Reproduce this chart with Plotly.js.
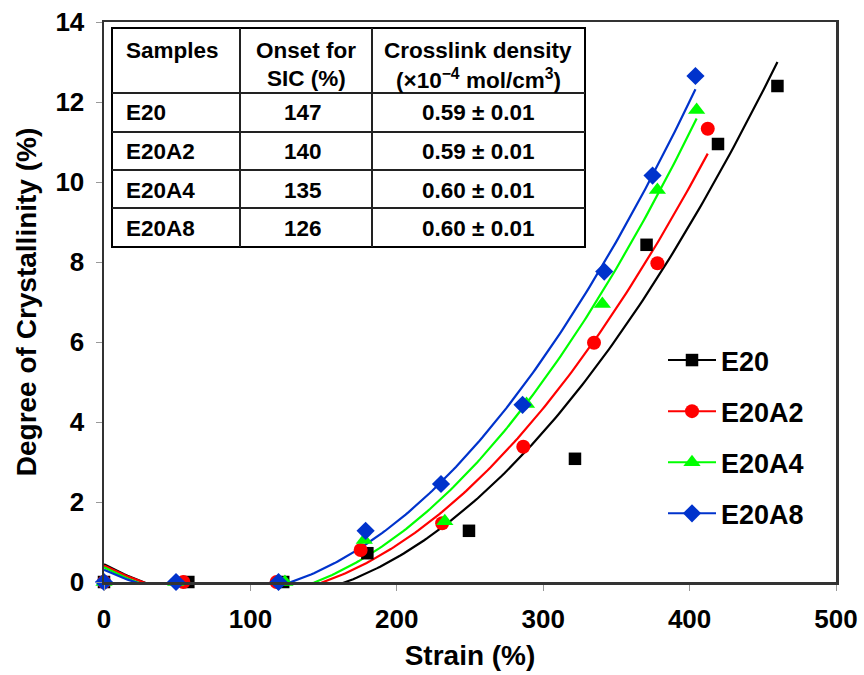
<!DOCTYPE html>
<html>
<head>
<meta charset="utf-8">
<script src="https://cdn.plot.ly/plotly-3.0.1.min.js"></script>
<style>html,body{margin:0;padding:0;background:#fff;}#chart{width:864px;height:675px;}</style>
</head>
<body>
<div id="chart"></div>
<script>
// ---- data ----
const seriesNames = ["E20", "E20A2", "E20A4", "E20A8"];
const strainE20   = [0, 57.6, 122.4, 179.9, 249.3, 321.7, 370.6, 419.4, 460];
const crystE20    = [0, 0, 0, 0.72, 1.28, 3.08, 8.43, 10.95, 12.4];
const strainE20A2 = [0, 54.2, 117.9, 175.3, 231, 286.4, 334.7, 378, 412.4];
const crystE20A2  = [0, 0, 0, 0.8, 1.47, 3.38, 5.98, 7.97, 11.33];
const strainE20A4 = [0, 49, 123.6, 177.8, 232.8, 288.6, 340.4, 378, 404.8];
const crystE20A4  = [0, 0, 0, 1.05, 1.52, 4.45, 6.95, 9.8, 11.8];
const strainE20A8 = [0, 49.2, 119.2, 178.7, 230.2, 285.9, 341.7, 374.7, 404];
const crystE20A8  = [0, 0, 0, 1.28, 2.45, 4.43, 7.76, 10.16, 12.65];

const tableHeader1 = ["Samples", "Onset for", "Crosslink density"];
const tableHeader2 = ["", "SIC (%)", "(×10<sup>−4</sup> mol/cm<sup>3</sup>)"];
const tableSamples = ["E20", "E20A2", "E20A4", "E20A8"];
const tableOnset   = ["147", "140", "135", "126"];
const tableDensity = ["0.59 ± 0.01", "0.59 ± 0.01", "0.60 ± 0.01", "0.60 ± 0.01"];

const xTickVals = [0, 100, 200, 300, 400, 500];
const yTickVals = [0, 2, 4, 6, 8, 10, 12, 14];

// ---- styles ----
const colors  = ["#000000", "#FF0000", "#00FF00", "#0033CC"];
const symbols = ["square", "circle", "triangle-up", "diamond"];
const sizes   = [12.5, 14, 15, 14];
const FONT = "Liberation Sans, Arial, sans-serif";

const strains = [strainE20, strainE20A2, strainE20A4, strainE20A8];
const crysts  = [crystE20, crystE20A2, crystE20A4, crystE20A8];

// quadratic least-squares trendline (like a spreadsheet polynomial trendline)
function polyfit2(xs, ys) {
  let S = [0,0,0,0,0], T = [0,0,0];
  for (let i = 0; i < xs.length; i++) {
    let p = 1;
    for (let k = 0; k < 5; k++) { S[k] += p; if (k < 3) T[k] += p * ys[i]; p *= xs[i]; }
  }
  const A = [[S[0],S[1],S[2],T[0]],[S[1],S[2],S[3],T[1]],[S[2],S[3],S[4],T[2]]];
  for (let c = 0; c < 3; c++) {
    let piv = c;
    for (let r = c+1; r < 3; r++) if (Math.abs(A[r][c]) > Math.abs(A[piv][c])) piv = r;
    [A[c], A[piv]] = [A[piv], A[c]];
    for (let r = 0; r < 3; r++) {
      if (r === c) continue;
      const f = A[r][c] / A[c][c];
      for (let k = c; k < 4; k++) A[r][k] -= f * A[c][k];
    }
  }
  return [A[0][3]/A[0][0], A[1][3]/A[1][1], A[2][3]/A[2][2]];
}

const traces = [];
// fitted curves
for (let s = 0; s < 4; s++) {
  const c = polyfit2(strains[s], crysts[s]);
  const xmax = Math.max(...strains[s]);
  const fx = [], fy = [];
  const n = 200;
  for (let i = 0; i <= n; i++) {
    const x = xmax * i / n;
    fx.push(x); fy.push(c[0] + c[1]*x + c[2]*x*x);
  }
  traces.push({x: fx, y: fy, mode: "lines", type: "scatter", showlegend: false,
    hoverinfo: "skip", line: {color: colors[s], width: 2.2}});
}
// data markers (null-separated so the legend shows line+marker but no connecting lines)
for (let s = 0; s < 4; s++) {
  const mx = [], my = [];
  strains[s].forEach((v, i) => { mx.push(v, null); my.push(crysts[s][i], null); });
  traces.push({x: mx, y: my, mode: "lines+markers", type: "scatter", name: seriesNames[s],
    connectgaps: false, cliponaxis: false, legendgroup: "g" + s,
    line: {color: colors[s], width: 2},
    marker: {symbol: symbols[s], size: sizes[s], color: colors[s], line: {width: 0}}});
}

// ---- table drawn with shapes + annotations (pixel -> paper helpers) ----
const L = 104, R = 836, T0 = 22, B = 582;
const px = v => (v - L) / (R - L);
const py = v => (B - v) / (B - T0);
const tL = 112, tR = 585, tT = 28, tB = 247;
const hLines = [93, 132, 170, 208];
const vLines = [240, 372];
const shapes = [];
shapes.push({type: "rect", xref: "paper", yref: "paper", x0: px(tL), x1: px(tR), y0: py(tB), y1: py(tT),
  line: {color: "#000", width: 2}, fillcolor: "#fff", layer: "above"});
hLines.forEach(h => shapes.push({type: "line", xref: "paper", yref: "paper", x0: px(tL), x1: px(tR), y0: py(h), y1: py(h), line: {color: "#222", width: 2}}));
vLines.forEach(v => shapes.push({type: "line", xref: "paper", yref: "paper", x0: px(v), x1: px(v), y0: py(tB), y1: py(tT), line: {color: "#222", width: 2}}));

const annotations = [];
const tf = {family: FONT, size: 22.5, color: "#000", weight: "bold"};
const colX = [124, 306, 478];
const colAnchor = ["left", "center", "center"];
function addText(text, x, y, anchor) {
  annotations.push({text: text, xref: "paper", yref: "paper", x: px(x), y: py(y), xanchor: anchor, yanchor: "middle",
    showarrow: false, font: tf});
}
for (let c = 0; c < 3; c++) {
  addText(tableHeader1[c], colX[c], 50, colAnchor[c]);
  if (tableHeader2[c]) addText(tableHeader2[c], colX[c], 79, colAnchor[c]);
}
const rowY = [113, 152, 190, 228];
for (let r = 0; r < tableSamples.length; r++) {
  addText(tableSamples[r], colX[0], rowY[r], "left");
  addText(tableOnset[r], colX[1] - 3, rowY[r], "center");
  addText(tableDensity[r], colX[2], rowY[r], "center");
}

const axisFont = {family: FONT, size: 26, color: "#000", weight: "bold"};
const layout = {
  width: 864, height: 675,
  margin: {l: L, r: 864 - R, t: T0, b: 675 - B},
  paper_bgcolor: "#fff", plot_bgcolor: "#fff",
  showlegend: true,
  font: {family: FONT, color: "#000"},
  xaxis: {range: [0, 500], tickvals: xTickVals, ticks: "outside", ticklen: 6, tickcolor: "#999", tickwidth: 1,
    showline: true, linecolor: "#333", linewidth: 2.5, mirror: true, showgrid: false, zeroline: false,
    tickfont: axisFont, ticklabelstandoff: 6,
    title: {text: "Strain (%)", font: {family: FONT, size: 28, color: "#000", weight: "bold"}, standoff: 13}},
  yaxis: {range: [0, 14], tickvals: yTickVals, ticks: "outside", ticklen: 6, tickcolor: "#999", tickwidth: 1,
    showline: true, linecolor: "#333", linewidth: 2.5, mirror: true, showgrid: false, zeroline: false,
    tickfont: axisFont, ticklabelstandoff: 6,
    title: {text: "Degree of Crystallinity (%)", font: {family: FONT, size: 28, color: "#000", weight: "bold"}, standoff: 11}},
  legend: {x: px(663), xanchor: "left", y: py(336), yanchor: "top", bgcolor: "rgba(0,0,0,0)",
    font: {family: FONT, size: 27, color: "#000", weight: "bold"}, traceorder: "grouped", tracegroupgap: 13,
    itemwidth: 48},
  shapes: shapes,
  annotations: annotations
};

Plotly.newPlot("chart", traces, layout, {displayModeBar: false, staticPlot: true});
</script>
</body>
</html>
